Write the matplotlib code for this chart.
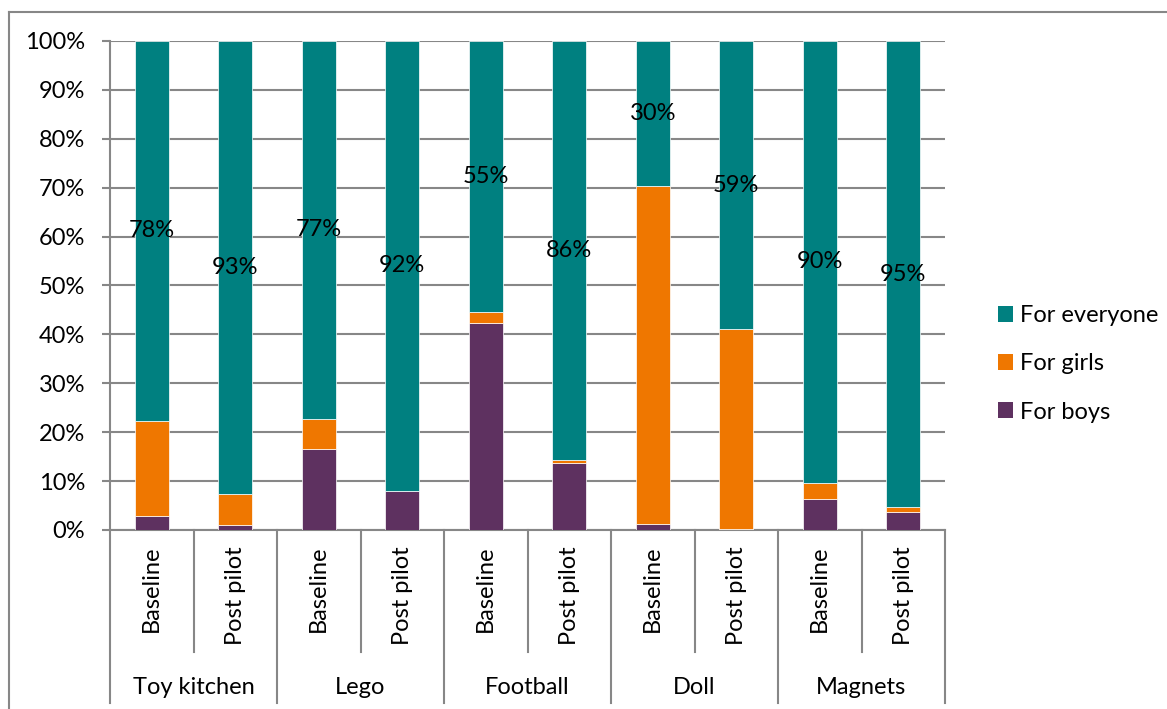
import matplotlib
matplotlib.use("Agg")
import matplotlib.pyplot as plt
from matplotlib.lines import Line2D
from matplotlib.patches import Patch
from matplotlib.transforms import blended_transform_factory

plt.rcParams['font.family'] = ['Lato', 'DejaVu Sans']

# Data
toys = ["Toy kitchen", "Lego", "Football", "Doll", "Magnets"]
phases = ["Baseline", "Post pilot"]
for_boys = [2.9, 1.1, 16.6, 8.0, 42.3, 13.6, 1.3, 0.3, 6.3, 3.7]
for_girls = [19.4, 6.3, 6.2, 0.0, 2.3, 0.7, 69.1, 40.8, 3.4, 1.0]
for_everyone = [77.7, 92.6, 77.2, 92.0, 55.4, 85.7, 29.6, 58.9, 90.3, 95.3]
y_ticks = [0, 10, 20, 30, 40, 50, 60, 70, 80, 90, 100]

C_BOYS = "#5E3160"
C_GIRLS = "#EF7700"
C_EVERYONE = "#008080"
GRID = "#878787"
FS = 17

W, H = 1167, 709
fig = plt.figure(figsize=(W / 100, H / 100), dpi=100)
ax = fig.add_axes([110 / W, (H - 530) / H, 835 / W, 489 / H])

n = len(for_boys)
x = list(range(n))
bw = 0.41
girls_bottom = [b for b in for_boys]
every_bottom = [b + g for b, g in zip(for_boys, for_girls)]

ax.bar(x, for_boys, bw, color=C_BOYS, edgecolor="white", linewidth=0.5, zorder=3)
ax.bar(x, for_girls, bw, bottom=girls_bottom, color=C_GIRLS,
       edgecolor="white", linewidth=0.5, zorder=3)
ax.bar(x, for_everyone, bw, bottom=every_bottom, color=C_EVERYONE,
       edgecolor="white", linewidth=0.5, zorder=3)

# value labels centred on the visible part of the "For everyone" segment
for xi, bot, val in zip(x, every_bottom, for_everyone):
    top = min(bot + val, 100)
    ax.text(xi, (bot + top) / 2, f"{val:.0f}%", ha="center", va="center",
            fontsize=FS, color="black", zorder=4)

ax.set_xlim(-0.5, n - 0.5)
ax.set_ylim(0, 100)
ax.set_yticks(y_ticks)
ax.set_yticklabels([f"{t}%" for t in y_ticks], fontsize=FS)
ax.yaxis.grid(True, color=GRID, linewidth=1.5, zorder=0)
ax.set_axisbelow(True)
ax.tick_params(axis="y", length=6, width=1.5, color=GRID, pad=12)
ax.tick_params(axis="x", length=0, labelbottom=False)
for s in ["top", "right"]:
    ax.spines[s].set_visible(False)
for s in ["left", "bottom"]:
    ax.spines[s].set_color(GRID)
    ax.spines[s].set_linewidth(1.5)

# two-level category axis
tr = blended_transform_factory(ax.transData, fig.transFigure)
def fy(py):
    return (H - py) / H

for k in range(n + 1):
    xb = k - 0.5
    bottom_px = 703 if k % 2 == 0 else 652
    ax.add_line(Line2D([xb, xb], [fy(530), fy(bottom_px)], transform=tr,
                       color=GRID, linewidth=1.5, clip_on=False))

for i in range(n):
    ax.text(i, fy(546), phases[i % 2], rotation=90, ha="center", va="top",
            fontsize=FS, transform=tr)

for g, name in enumerate(toys):
    ax.text(2 * g + 0.5, fy(687), name, ha="center", va="center",
            fontsize=FS, transform=tr)

# legend
handles = [Patch(facecolor=C_EVERYONE, label="For everyone"),
           Patch(facecolor=C_GIRLS, label="For girls"),
           Patch(facecolor=C_BOYS, label="For boys")]
fig.legend(handles=handles, loc="center left",
           bbox_to_anchor=(986 / W, fy(364)), frameon=False, fontsize=FS,
           handlelength=0.65, handleheight=0.65, handletextpad=0.3,
           labelspacing=1.15, borderpad=0)

# chart frame
fig.add_artist(Line2D([9 / W, 1.0], [fy(12), fy(12)], color=GRID, linewidth=1.5))
fig.add_artist(Line2D([9 / W, 9 / W], [fy(12), 0.0], color=GRID, linewidth=1.5))

fig.savefig("out.png", dpi=100)
